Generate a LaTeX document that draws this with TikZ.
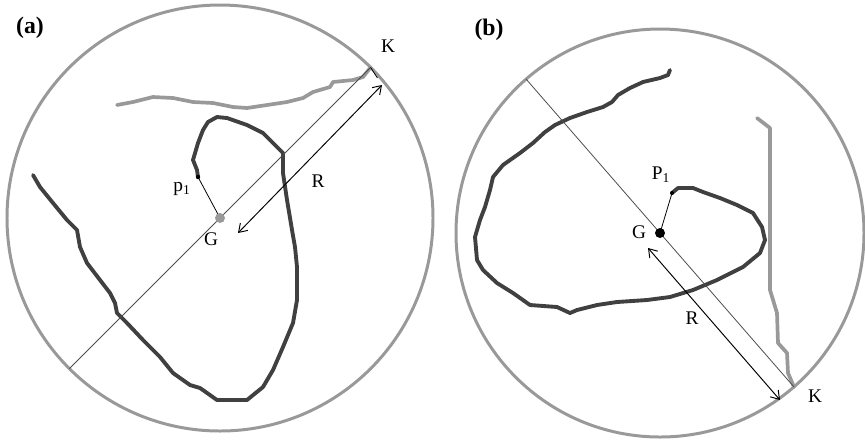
\documentclass[tikz,border=0pt]{standalone}
\usepackage{fontspec}
\setmainfont{Liberation Serif}
\usetikzlibrary{arrows.meta, positioning, calc}

\begin{document}
\begin{tikzpicture}[x=0.02cm, y=-0.02cm,
    rim/.style={draw=black!40, line width=1.7pt},
    trace/.style={draw=black!75, line width=2.2pt, line join=round, line cap=round},
    stroke/.style={draw=black!40, line width=2.1pt, line join=round, line cap=round},
    diam/.style={draw=black!70, line width=0.45pt},
    rarrow/.style={draw=black, line width=0.55pt,
        {Straight Barb[length=4.5pt,width=6pt]}-{Straight Barb[length=4.5pt,width=6pt]}},
    lbl/.style={font=\fontsize{11}{13}\selectfont, inner sep=0pt},
    tag/.style={font=\fontsize{13.5}{16}\selectfont\bfseries, inner sep=0pt}]
    \useasboundingbox (0,0) rectangle (865,441);

    % Hình (a)
    \coordinate (O_a) at (220,218);
    \coordinate (K_a) at (370.6,67.4);
    \coordinate (L_a) at (69.4,368.6);
    \coordinate (G_a) at (220,218);
    \coordinate (p_a) at (198,177);
    \coordinate (A1) at (382,85);
    \coordinate (A2) at (238,233);
    \draw[rim] (O_a) circle[radius=213];
    \draw[stroke] (117,105) -- (133,102) -- (153,97) -- (173,98) -- (193,102) -- (213,103)
        -- (233,107) -- (247,108) -- (267,105) -- (287,102) -- (303,98) -- (313,92)
        -- (330,87) -- (333,82) -- (353,80) -- (363,77) -- (K_a);
    \draw[trace] (33,175) -- (40,187) -- (53,203) -- (67,220) -- (77,230) -- (80,247)
        -- (87,263) -- (100,280) -- (110,293) -- (115,303) -- (117,313) -- (127,323)
        -- (143,340) -- (160,357) -- (173,373) -- (190,385) -- (200,388) -- (217,400)
        -- (247,400) -- (263,387) -- (273,370) -- (283,347) -- (293,323) -- (297,300)
        -- (297,267) -- (295,247) -- (292,230) -- (287,200) -- (283,173) -- (283,153)
        -- (273,143) -- (263,133) -- (247,125) -- (227,118) -- (217,117) -- (208,122)
        -- (203,130) -- (198,143) -- (193,160) -- (197,170) -- (p_a);
    \draw[diam] (L_a) -- (K_a);
    \draw[diam, black] (K_a) -- ($(K_a)!0.6!(A1)$);
    \draw[rarrow] (A2) -- (A1);
    \draw[diam, black] (G_a) -- (p_a);
    \fill[black!40] (G_a) circle[radius=5];
    \fill[black] (p_a) circle[radius=2.2];
    \node[tag] (tag_a) at (30,28) {(a)};
    \node[lbl] (lK_a) at (388,46) {K};
    \node[lbl] (lG_a) at (211,239) {G};
    \node[lbl] (lp_a) at (182,189) {p\textsubscript{1}};
    \node[lbl] (lR_a) at (318,181) {R};

    % Hình (b)
    \coordinate (O_b) at (660,233);
    \coordinate (K_b) at (794,387);
    \coordinate (L_b) at (526,79);
    \coordinate (G_b) at (660,233);
    \coordinate (p_b) at (672,193);
    \coordinate (B1) at (648,248);
    \coordinate (B2) at (780,400);
    \draw[rim] (O_b) circle[radius=204];
    \draw[stroke] (757,118) -- (770,128) -- (770,290) -- (777,313) -- (778,343)
        -- (787,353) -- (788,373) -- (K_b);
    \draw[trace] (670,70) -- (668,75) -- (660,78) -- (643,82) -- (630,88) -- (618,95)
        -- (612,102) -- (603,107) -- (587,112) -- (570,118) -- (555,125) -- (545,132)
        -- (533,143) -- (520,153) -- (503,165) -- (493,177) -- (490,190) -- (485,207)
        -- (480,220) -- (475,237) -- (477,260) -- (483,270) -- (497,283) -- (513,293)
        -- (530,305) -- (557,307) -- (570,313) -- (577,310) -- (597,305) -- (617,302)
        -- (647,300) -- (670,297) -- (693,290) -- (717,280) -- (743,267) -- (760,253)
        -- (765,240) -- (762,227) -- (753,213) -- (737,205) -- (720,198) -- (703,192)
        -- (693,188) -- (678,188) -- (p_b);
    \draw[diam] (L_b) -- (K_b);
    \draw[rarrow] (B1) -- (B2);
    \draw[diam, black] (G_b) -- (p_b);
    \fill[black] (G_b) circle[radius=5];
    \fill[black] (p_b) circle[radius=2];
    \node[tag] (tag_b) at (489,30) {(b)};
    \node[lbl] (lK_b) at (815,396) {K};
    \node[lbl] (lG_b) at (639,232) {G};
    \node[lbl] (lp_b) at (661,175) {P\textsubscript{1}};
    \node[lbl] (lR_b) at (692,318) {R};
\end{tikzpicture}
\end{document}
